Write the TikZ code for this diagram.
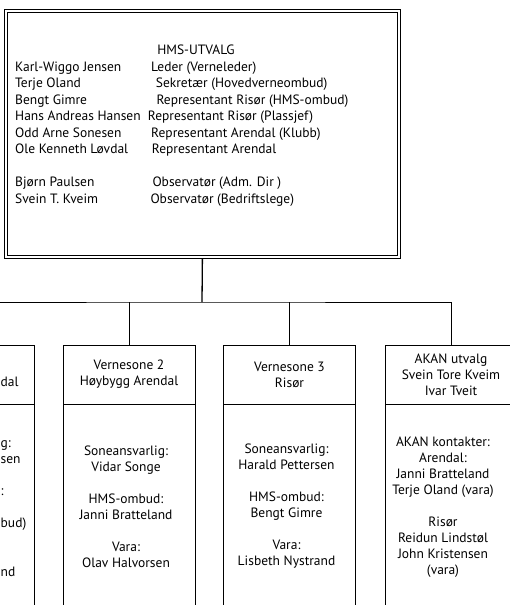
\documentclass[tikz,border=0pt]{standalone}
\usepackage{fontspec}
\setmainfont{PT Sans}
\usetikzlibrary{positioning, calc}

\begin{document}
\begin{tikzpicture}[x=1pt, y=-1pt,
  every node/.style={font=\fontsize{13.5}{16}\selectfont, inner sep=0pt},
  head/.style={rectangle, draw, line width=0.8pt, minimum width=132pt,
               minimum height=59pt, align=center},
  body/.style={rectangle, draw, line width=0.8pt, minimum width=132pt,
               minimum height=240pt, anchor=north},
  txt/.style={align=center},
  link/.style={line width=0.8pt}
]
  \useasboundingbox (0,0) rectangle (510,605);
  \clip (0,0) rectangle (510,605);

  % HMS-utvalget, dobbel ramme
  \node[draw, line width=0.9pt, minimum width=395.2pt,
        minimum height=248.2pt] (hms) at (202.4,133.9) {};
  \draw[line width=0.9pt] ([shift={(3.2,3.2)}]hms.north west)
    rectangle ([shift={(-3.2,-3.2)}]hms.south east);
  \node[anchor=base] (tittel) at (196,54.7) {HMS-UTVALG};
  \foreach \y/\navn/\rx/\rolle [count=\i] in {
      71.7/Karl-Wiggo Jensen/151/Leder (Verneleder),
      87.7/Terje Oland/155.7/Sekretær (Hovedverneombud),
      104/Bengt Gimre/156.3/Representant Risør (HMS-ombud),
      120.7/Hans Andreas Hansen/147.7/Representant Risør (Plassjef),
      137.3/Odd Arne Sonesen/151/Representant Arendal (Klubb),
      153.7/Ole Kenneth Løvdal/151.7/Representant Arendal,
      186.7/Bjørn Paulsen/152.3/Observatør (Adm. Dir ),
      203.7/Svein T. Kveim/150.3/Observatør (Bedriftslege)} {
    \node[anchor=base west] (navn-\i) at (15,\y) {\navn};
    \node[anchor=base west] (rolle-\i) at (\rx,\y) {\rolle};
  }

  % vernesonene
  \node[head] (h1) at (-32,374.5) {};
  \node[head] (h2) at (129,374.5) {Vernesone 2\\Høybygg Arendal};
  \node[head] (h3) at (289.5,374.5) {Vernesone 3\\Risør};
  \node[head] (h4) at (451,374.5) {AKAN utvalg\\Svein Tore Kveim\\Ivar Tveit};
  \foreach \n in {1,...,4}
    \node[body] (s\n) at (h\n.south) {};

  % det som er synlig av sone 1
  \node[anchor=base west] (d1) at (0.5,386.5) {dal};
  \node[anchor=base west] (d2) at (0.5,447) {g:};
  \node[anchor=base west] (d3) at (0.5,463) {sen};
  \node[anchor=base west] (d4) at (0.5,495) {:};
  \node[anchor=base west] (d5) at (0.5,527) {bud)};
  \node[anchor=base west] (d6) at (0.5,576) {nd};

  \node[txt] (t2) at (126,506.5) {Soneansvarlig:\\Vidar Songe\\[16pt]
    HMS-ombud:\\Janni Bratteland\\[16pt]Vara:\\Olav Halvorsen};
  \node[txt] (t3) at (286.5,506.5) {Soneansvarlig:\\Harald Pettersen\\[16pt]
    HMS-ombud:\\Bengt Gimre\\[16pt]Vara:\\Lisbeth Nystrand};
  \node[txt] (t4) at (443,507.5) {AKAN kontakter:\\Arendal:\\Janni Bratteland\\
    Terje Oland (vara)\\[16pt]Risør\\Reidun Lindstøl\\John Kristensen\\(vara)};

  % linjer
  \coordinate (bus) at (202,302);
  \draw[link, line width=1.3pt] (hms.south) -- (bus);
  \draw[link] (h1.north) |- (bus) -| (h4.north);
  \draw[link] (h2.north) -- (h2.north |- bus);
  \draw[link] (h3.north) -- (h3.north |- bus);
\end{tikzpicture}
\end{document}
